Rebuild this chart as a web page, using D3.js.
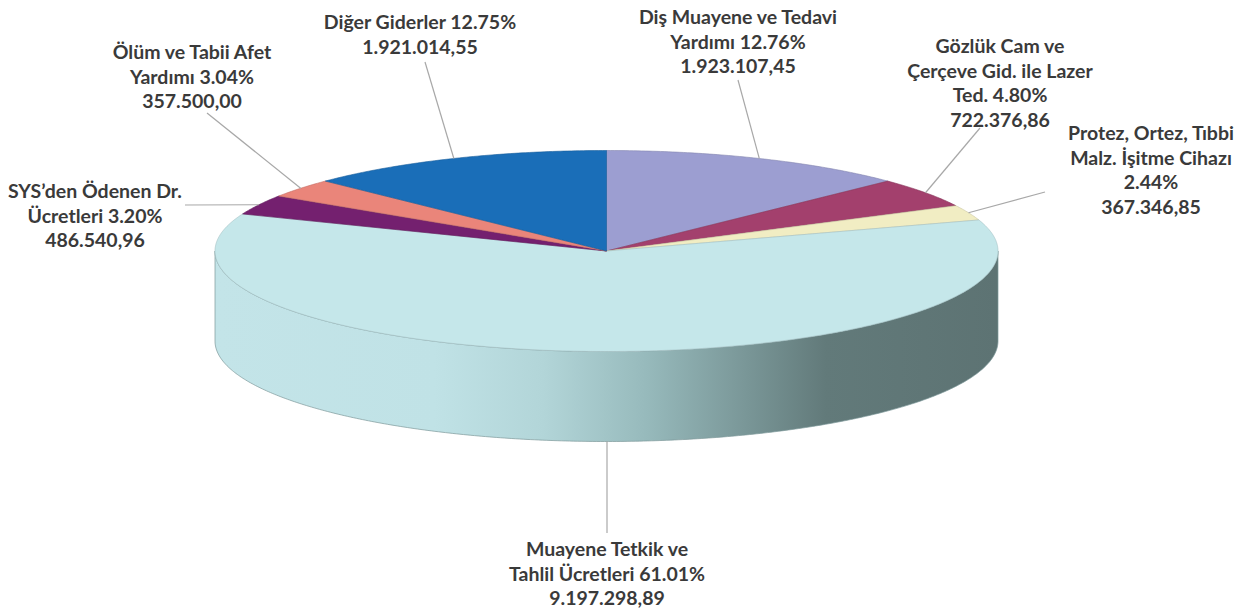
<!DOCTYPE html>
<html>
<head>
<meta charset="utf-8">
<script src="https://cdn.jsdelivr.net/npm/d3@7"></script>
<style>
  html, body { margin: 0; padding: 0; background: #fff; }
  svg { display: block; }
</style>
</head>
<body>
<svg id="chart" width="1241" height="615"></svg>
<script>
// Dilimler (saat yönünde, tepeden başlayarak)
const categories = [
  'Diş Muayene ve Tedavi\nYardımı',
  'Gözlük Cam ve\nÇerçeve Gid. ile Lazer\nTed.',
  'Protez, Ortez, Tıbbi\nMalz. İşitme Cihazı\n',
  'Muayene Tetkik ve\nTahlil Ücretleri',
  'SYS’den Ödenen Dr.\nÜcretleri',
  'Ölüm ve Tabii Afet\nYardımı',
  'Diğer Giderler'
];
const percents = [12.76, 4.80, 2.44, 61.01, 3.20, 3.04, 12.75];
const amounts = [1923107.45, 722376.86, 367346.85, 9197298.89, 486540.96, 357500.00, 1921014.55];
const colors = ['#9c9ed1', '#a3406d', '#f1edc3', '#c5e7ea', '#74206f', '#ea857a', '#1a6eb8'];

// Etiket yerleşimi (orta x, ilk satır taban çizgisi, bağlantı çizgisi başlangıcı)
const labelPos = [
  { x: 738, y: 24, lx: 738, ly: 80 },
  { x: 1000, y: 53, lx: 980, ly: 128 },
  { x: 1151, y: 140, lx: 1045, ly: 192 },
  { x: 607, y: 556, lx: 607, ly: 533 },
  { x: 95, y: 198, lx: 185, ly: 205 },
  { x: 192, y: 59, lx: 207, ly: 113 },
  { x: 420, y: 29, lx: 425, ly: 62 }
];

const cx = 606.5, cy = 251, rx = 391.5, ry = 100.5, depth = 90;
const lineH = 24.5;

const svg = d3.select('#chart');

const x = d3.scaleLinear().domain([-1, 1]).range([cx - rx, cx + rx]);
const y = d3.scaleLinear().domain([-1, 1]).range([cy + ry, cy - ry]);
const px = a => x(Math.sin(a));
const py = a => y(Math.cos(a));

const trLocale = d3.formatLocale({ decimal: ',', thousands: '.', grouping: [3], currency: ['', ''] });
const fmtAmount = trLocale.format(',.2f');
const fmtPct = d3.format('.2f');

const data = categories.map((name, i) => ({
  name: name, pct: percents[i], amount: amounts[i], color: colors[i], pos: labelPos[i]
}));

const pie = d3.pie().sort(null).value(d => d.pct);
const arcs = pie(data);

function arcPoints(a0, a1, dy) {
  const n = Math.max(2, Math.ceil((a1 - a0) / 0.01));
  return d3.range(n + 1).map(k => {
    const a = a0 + (a1 - a0) * k / n;
    return [px(a), py(a) + dy];
  });
}
const line = d3.line();

// Yan yüz gradyanı
const defs = svg.append('defs');
const grad = defs.append('linearGradient')
  .attr('id', 'sideGrad')
  .attr('gradientUnits', 'userSpaceOnUse')
  .attr('x1', cx - rx).attr('x2', cx + rx).attr('y1', 0).attr('y2', 0);
[[0, '#c3e4e8'], [0.28, '#c0e2e6'], [0.42, '#b2d5d8'], [0.55, '#97babc'],
 [0.68, '#799697'], [0.78, '#627a7a'], [1, '#5d7373']].forEach(s => {
  grad.append('stop').attr('offset', s[0]).attr('stop-color', s[1]);
});

const pieG = svg.append('g');

// Yan yüzler (ön yarı)
arcs.forEach(d => {
  const a0 = Math.max(d.startAngle, Math.PI / 2);
  const a1 = Math.min(d.endAngle, 3 * Math.PI / 2);
  if (a1 <= a0) return;
  const pts = arcPoints(a0, a1, 0).concat(arcPoints(a0, a1, depth).reverse());
  pieG.append('path')
    .attr('d', line(pts) + 'Z')
    .attr('fill', d.data.pct > 50 ? 'url(#sideGrad)' : d3.color(d.data.color).darker(0.8))
    .attr('stroke', '#7d9899')
    .attr('stroke-width', 0.7);
});

// Üst yüzler
arcs.forEach(d => {
  const pts = [[cx, cy]].concat(arcPoints(d.startAngle, d.endAngle, 0));
  pieG.append('path')
    .attr('d', line(pts) + 'Z')
    .attr('fill', d.data.color)
    .attr('stroke', d3.color(d.data.color).darker(0.5))
    .attr('stroke-width', 0.6)
    .attr('stroke-linejoin', 'round');
});

// Bağlantı çizgileri
const labelsG = svg.append('g');
arcs.forEach(d => {
  const mid = (d.startAngle + d.endAngle) / 2;
  const front = Math.cos(mid) < -0.5;
  const ex = px(mid);
  const ey = py(mid) + (front ? depth : 0);
  labelsG.append('line')
    .attr('x1', d.data.pos.lx).attr('y1', d.data.pos.ly)
    .attr('x2', front ? d.data.pos.lx : ex).attr('y2', ey)
    .attr('stroke', '#a8a8a8')
    .attr('stroke-width', 1.2);
});

// Etiketler
arcs.forEach(d => {
  const lines = d.data.name.split('\n');
  const last = lines.pop();
  lines.push((last ? last + ' ' : '') + fmtPct(d.data.pct) + '%');
  lines.push(fmtAmount(d.data.amount));
  const t = labelsG.append('text')
    .attr('text-anchor', 'middle')
    .attr('font-family', 'Lato, "Open Sans", sans-serif')
    .attr('font-weight', 'bold')
    .attr('font-size', 19.5)
    .attr('fill', '#3a3a3a');
  lines.forEach((s, i) => {
    t.append('tspan')
      .attr('x', d.data.pos.x)
      .attr('y', d.data.pos.y + i * lineH)
      .text(s);
  });
});
</script>
</body>
</html>
